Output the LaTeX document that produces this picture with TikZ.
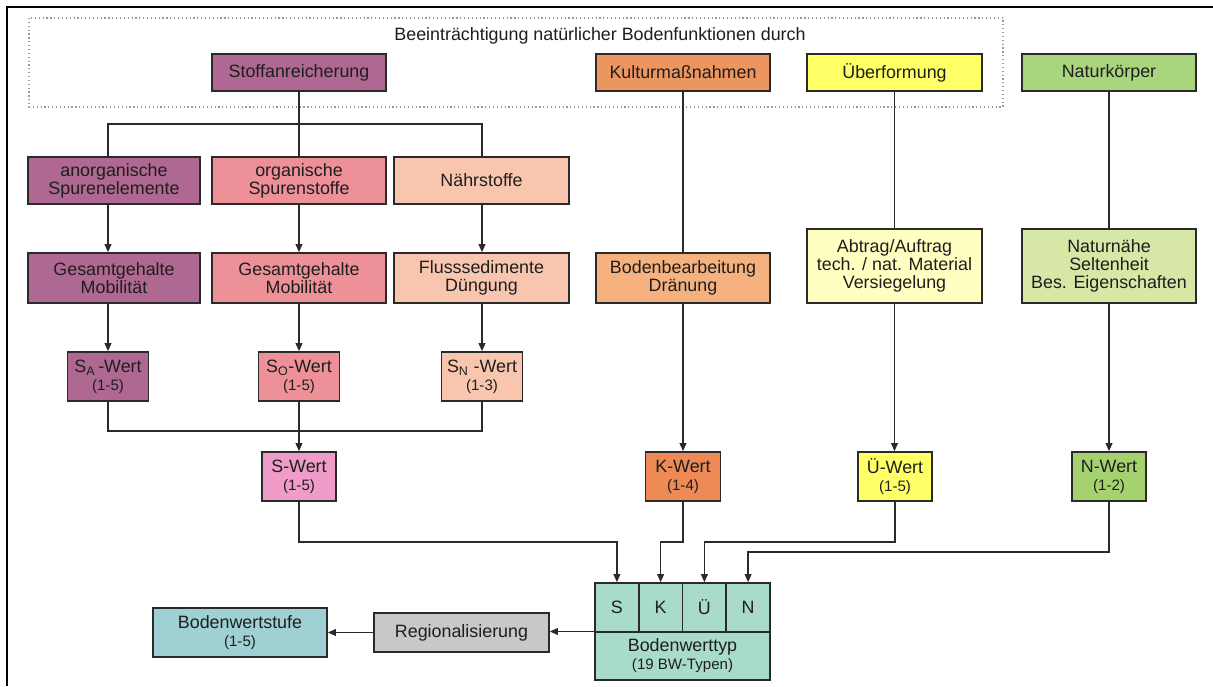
\documentclass[tikz,border=0pt]{standalone}
\usepackage{fontspec}
\setmainfont{Liberation Sans}
\usetikzlibrary{arrows.meta,calc}
\definecolor{txt}{HTML}{1E1E1E}
\definecolor{boxline}{HTML}{2A2A2A}
\definecolor{linec}{HTML}{2A2A2A}
\definecolor{mauve}{HTML}{AF6891}
\definecolor{salmon}{HTML}{EE9098}
\definecolor{peach}{HTML}{F8C6AE}
\definecolor{pinkS}{HTML}{F09CC8}
\definecolor{orangeTop}{HTML}{EC955F}
\definecolor{orangeMid}{HTML}{F6B27E}
\definecolor{orangeW}{HTML}{EE8A56}
\definecolor{yellowTop}{HTML}{FFFF66}
\definecolor{yellowMid}{HTML}{FFFFC2}
\definecolor{greenTop}{HTML}{A9D57C}
\definecolor{greenMid}{HTML}{D6E7A6}
\definecolor{greenW}{HTML}{A5D26F}
\definecolor{mint}{HTML}{A8DCC8}
\definecolor{greyR}{HTML}{C8C8C6}
\definecolor{tealB}{HTML}{9ED0D4}
\newcommand{\mainfs}{\fontsize{13.4}{13.6}\selectfont}
\newcommand{\smallfs}{\fontsize{11.3}{12}\selectfont}
\begin{document}
\begin{tikzpicture}[x=0.75pt,y=-0.75pt,
  box/.style={draw=boxline,line width=1.2pt,inner sep=0pt,align=center,text=txt,font=\mainfs},
  bx/.style 2 args={minimum width=#1*0.75pt,minimum height=#2*0.75pt},
  conn/.style={draw=linec,line width=1.2pt},
  arr/.style={conn,-{Triangle[length=6pt,width=5pt]}},
  framel/.style={draw=black,line width=1.6pt},
  dotbox/.style={draw=gray!80,dotted,line width=0.9pt}
]
\useasboundingbox (0,0) rectangle (1213,686);
\fill[white] (0,0) rectangle (1213,686);
% frame
\draw[framel] (7,686) -- (7,7) -- (1213,7);
% dotted group box
\draw[dotbox] (29,18) rectangle (1003,107);
\node[font=\mainfs,text=txt] (title) at (600,36) {Beeinträchtigung natürlicher Bodenfunktionen durch};

% column helpers
\coordinate (colA) at (108,0);
\coordinate (colC) at (482,0);
\coordinate (branch) at (299,124);
\coordinate (join) at (299,431);
\coordinate (lvlA) at (0,542);
\coordinate (lvlB) at (0,552);

% top row
\node[box,bx={174}{37},fill=mauve] (stoff) at (299,72.5) {Stoffanreicherung};
\node[box,bx={174}{37},fill=orangeTop] (kultur) at (683,72.5) {Kulturmaßnahmen};
\node[box,bx={175}{37},fill=yellowTop] (ueber) at (894.5,72.5) {Überformung};
\node[box,bx={174}{37},fill=greenTop] (natur) at (1109,72.5) {Naturkörper};

% second row
\node[box,bx={172}{47},fill=mauve] (anorg) at (114,180.5) {anorganische\\Spurenelemente};
\node[box,bx={174}{47},fill=salmon] (org) at (299,180.5) {organische\\Spurenstoffe};
\node[box,bx={175}{47},fill=peach] (naehr) at (481.5,180.5) {Nährstoffe};

% third row
\node[box,bx={172}{50},fill=mauve] (gesA) at (114,278) {Gesamtgehalte\\Mobilität};
\node[box,bx={174}{50},fill=salmon] (gesB) at (299,278) {Gesamtgehalte\\Mobilität};
\node[box,bx={175}{50},fill=peach] (flus) at (481.5,278) {Flusssedimente\\Düngung};
\node[box,bx={174}{50},fill=orangeMid] (bodenb) at (683,278) {Bodenbearbeitung\\Dränung};
\node[box,bx={175}{74},fill=yellowMid] (abtrag) at (894.5,266) {Abtrag/Auftrag\\tech. / nat. Material\\Versiegelung};
\node[box,bx={174}{74},fill=greenMid] (naturn) at (1109,266) {Naturnähe\\Seltenheit\\Bes. Eigenschaften};

% fourth row
\node[box,bx={81}{49},fill=mauve] (sa) at (108,376.5) {S\textsubscript{A}\,-Wert\\[0pt]{\smallfs (1-5)}};
\node[box,bx={81}{49},fill=salmon] (so) at (299,376.5) {S\textsubscript{O}-Wert\\[0pt]{\smallfs (1-5)}};
\node[box,bx={81}{49},fill=peach] (sn) at (482,376.5) {S\textsubscript{N}\ -Wert\\[0pt]{\smallfs (1-3)}};

% Wert boxes
\node[box,bx={74}{49},fill=pinkS] (swert) at (299,476.5) {S-Wert\\[0pt]{\smallfs (1-5)}};
\node[box,bx={75}{49},fill=orangeW] (kwert) at (683,476.5) {K-Wert\\[0pt]{\smallfs (1-4)}};
\node[box,bx={74}{49},fill=yellowTop] (uewert) at (895,476.5) {Ü-Wert\\[0pt]{\smallfs (1-5)}};
\node[box,bx={74}{49},fill=greenW] (nwert) at (1109,476.5) {N-Wert\\[0pt]{\smallfs (1-2)}};

% Bodenwerttyp composite
\node[box,bx={175}{97},fill=mint] (skuen) at (682.5,631.5) {};
\node[box,bx={43.75}{49},fill=mint] (cS) at (616.9,607.5) {S};
\node[box,bx={43.75}{49},fill=mint] (cK) at (660.6,607.5) {K};
\node[box,bx={43.75}{49},fill=mint] (cU) at (704.4,607.5) {Ü};
\node[box,bx={43.75}{49},fill=mint] (cN) at (748.1,607.5) {N};
\node[box,bx={175}{48},fill=mint] (bwt) at (682.5,656) {Bodenwerttyp\\[0pt]{\smallfs (19 BW-Typen)}};

% bottom left
\node[box,bx={175}{39},fill=greyR] (regional) at (461.5,632.5) {Regionalisierung};
\node[box,bx={174}{49},fill=tealB] (bstufe) at (240,632.5) {Bodenwertstufe\\[0pt]{\smallfs (1-5)}};

% connectors: Stoffanreicherung branch
\draw[conn] (stoff.south) -- (org.north);
\draw[conn] (colA |- anorg.north) |- (branch) -| (colC |- naehr.north);
\draw[arr] (colA |- anorg.south) -- (colA |- gesA.north);
\draw[arr] (org.south) -- (gesB.north);
\draw[arr] (colC |- naehr.south) -- (colC |- flus.north);
\draw[arr] (colA |- gesA.south) -- (sa.north);
\draw[arr] (gesB.south) -- (so.north);
\draw[arr] (colC |- flus.south) -- (sn.north);
\draw[conn] (sa.south) |- (join) -| (sn.south);
\draw[arr] (so.south) -- (swert.north);

% right columns
\draw[conn] (kultur.south) -- (bodenb.north);
\draw[arr] (bodenb.south) -- (kwert.north);
\draw[conn] (ueber.south) -- (abtrag.north);
\draw[arr] (abtrag.south) -- (abtrag.south |- uewert.north);
\draw[conn] (natur.south) -- (naturn.north);
\draw[arr] (naturn.south) -- (nwert.north);

% into Bodenwerttyp
\draw[arr] (swert.south) |- (cS.north |- lvlA) -- (cS.north);
\draw[arr] (kwert.south) |- (cK.north |- lvlA) -- (cK.north);
\draw[arr] (uewert.south) |- (cU.north |- lvlA) -- (cU.north);
\draw[arr] (nwert.south) |- (cN.north |- lvlB) -- (cN.north);

% outputs
\draw[arr] (skuen.west) -- (skuen.west -| regional.east);
\draw[arr] (regional.west) -- (bstufe.east);
\end{tikzpicture}
\end{document}
